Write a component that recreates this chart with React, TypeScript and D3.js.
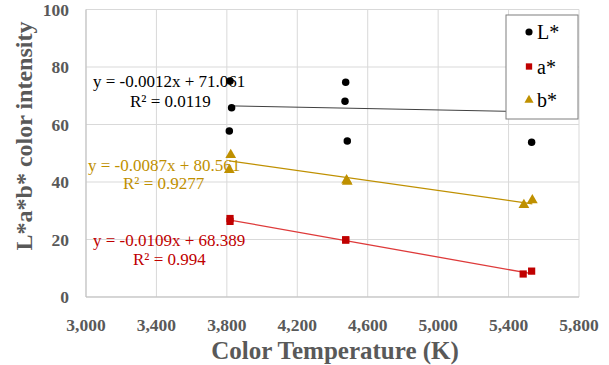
import React from "react";
import * as d3 from "d3";

// Colour temperature (K) and L*a*b* readings
const lTemp = [3818, 3827, 3814, 4475, 4471, 4484, 5531];
const lVal = [75.1, 65.8, 57.7, 74.7, 68.1, 54.3, 53.8];
const aTemp = [3818, 3818, 4475, 4475, 5483, 5531];
const aVal = [27.3, 26.3, 19.8, 19.9, 8.0, 9.0];
const bTemp = [3822, 3814, 4484, 4480, 5487, 5535];
const bVal = [49.4, 44.2, 40.1, 40.6, 32.0, 33.7];

// Linear fits (slope, intercept, R²)
const lFit = [-0.0012, 71.061, 0.0119];
const aFit = [-0.0109, 68.389, 0.994];
const bFit = [-0.0087, 80.561, 0.9277];

const xTicks = [3000, 3400, 3800, 4200, 4600, 5000, 5400, 5800];
const yTicks = [0, 20, 40, 60, 80, 100];

const W = 609;
const H = 365;
const M = { left: 86, right: 579, top: 9.5, bottom: 297 };
const FONT = "'Liberation Serif', 'Times New Roman', serif";
const AXIS = "#595959";
const RED = "#C00000";
const RED_LINE = "#DE3A3A";
const GOLD = "#BF9000";

export default function App() {
  const x = d3.scaleLinear().domain([3000, 5800]).range([M.left, M.right]);
  const y = d3.scaleLinear().domain([0, 100]).range([M.bottom, M.top]);
  const fmt = d3.format(",");

  const fitLine = (temps: number[], fit: number[]) => {
    const [lo, hi] = d3.extent(temps) as [number, number];
    return d3
      .line<number>()
      .x((t) => x(t))
      .y((t) => y(fit[0] * t + fit[1]))([lo, hi]) as string;
  };

  const circle = d3.symbol(d3.symbolCircle, 44)() as string;
  const square = d3.symbol(d3.symbolSquare, 52)() as string;
  const triangle = d3.symbol(d3.symbolTriangle, 50)() as string;
  const circleL = d3.symbol(d3.symbolCircle, 40)() as string;
  const squareL = d3.symbol(d3.symbolSquare, 40)() as string;
  const triangleL = d3.symbol(d3.symbolTriangle, 36)() as string;

  const eq = (fit: number[]) => `y = ${fit[0]}x + ${fit[1]}`;

  return (
    <svg
      width={W}
      height={H}
      style={{ position: "absolute", left: 0, top: 0, background: "#fff" }}
      fontFamily={FONT}
    >
      {/* grid */}
      {xTicks.map((t) => (
        <line key={"gx" + t} x1={x(t)} x2={x(t)} y1={M.top} y2={M.bottom} stroke="#d9d9d9" strokeWidth={1} />
      ))}
      {yTicks.map((t) => (
        <line key={"gy" + t} x1={M.left} x2={M.right} y1={y(t)} y2={y(t)} stroke="#d9d9d9" strokeWidth={1} />
      ))}
      <line x1={M.left} x2={M.left} y1={M.top} y2={M.bottom} stroke="#bfbfbf" />
      <line x1={M.left} x2={M.right} y1={M.bottom} y2={M.bottom} stroke="#bfbfbf" />

      {/* tick labels */}
      {yTicks.map((t) => (
        <text key={"ty" + t} x={69} y={y(t)} dy="0.35em" textAnchor="end" fontSize={17.5} fontWeight="bold" fill={AXIS}>
          {t}
        </text>
      ))}
      {xTicks.map((t) => (
        <text key={"tx" + t} x={x(t)} y={325} dy="0.35em" textAnchor="middle" fontSize={17.5} fontWeight="bold" fill={AXIS}>
          {fmt(t)}
        </text>
      ))}

      {/* axis titles */}
      <text x={335} y={350} dy="0.35em" textAnchor="middle" fontSize={25} fontWeight="bold" fill={AXIS}>
        Color Temperature (K)
      </text>
      <text
        transform={`translate(24, ${136}) rotate(-90)`}
        dy="0.35em"
        textAnchor="middle"
        fontSize={24}
        fontWeight="bold"
        fill={AXIS}
      >
        L*a*b* color intensity
      </text>

      {/* trend lines */}
      <path d={fitLine(lTemp, lFit)} stroke="#404040" strokeWidth={1} fill="none" />
      <path d={fitLine(bTemp, bFit)} stroke={GOLD} strokeWidth={1.3} fill="none" />
      <path d={fitLine(aTemp, aFit)} stroke={RED_LINE} strokeWidth={1.3} fill="none" />

      {/* points */}
      {lTemp.map((t, i) => (
        <path key={"l" + i} d={circle} transform={`translate(${x(t)},${y(lVal[i])})`} fill="#000" />
      ))}
      {aTemp.map((t, i) => (
        <path key={"a" + i} d={square} transform={`translate(${x(t)},${y(aVal[i])})`} fill={RED} />
      ))}
      {bTemp.map((t, i) => (
        <path key={"b" + i} d={triangle} transform={`translate(${x(t)},${y(bVal[i])})`} fill={GOLD} />
      ))}

      {/* fit equations */}
      <text x={93} y={81} dy="0.35em" fontSize={17} fill="#000">{eq(lFit)}</text>
      <text x={130} y={101} dy="0.35em" fontSize={17} fill="#000">R² = {lFit[2]}</text>
      <text x={88} y={165} dy="0.35em" fontSize={17} fill={GOLD}>{eq(bFit)}</text>
      <text x={123} y={183} dy="0.35em" fontSize={17} fill={GOLD}>R² = {bFit[2]}</text>
      <text x={93} y={240} dy="0.35em" fontSize={17} fill={RED}>{eq(aFit)}</text>
      <text x={133} y={259} dy="0.35em" fontSize={17} fill={RED}>R² = {aFit[2]}</text>

      {/* legend */}
      <rect x={506} y={15} width={72} height={104} fill="#fff" stroke="#7f7f7f" strokeWidth={1} />
      <path d={circleL} transform="translate(529,32)" fill="#000" />
      <text x={537} y={32} dy="0.35em" fontSize={20} fill="#000">L*</text>
      <path d={squareL} transform="translate(529,66.5)" fill={RED} />
      <text x={537} y={66.5} dy="0.35em" fontSize={20} fill="#000">a*</text>
      <path d={triangleL} transform="translate(529,100)" fill={GOLD} />
      <text x={537} y={100} dy="0.35em" fontSize={20} fill="#000">b*</text>
    </svg>
  );
}
